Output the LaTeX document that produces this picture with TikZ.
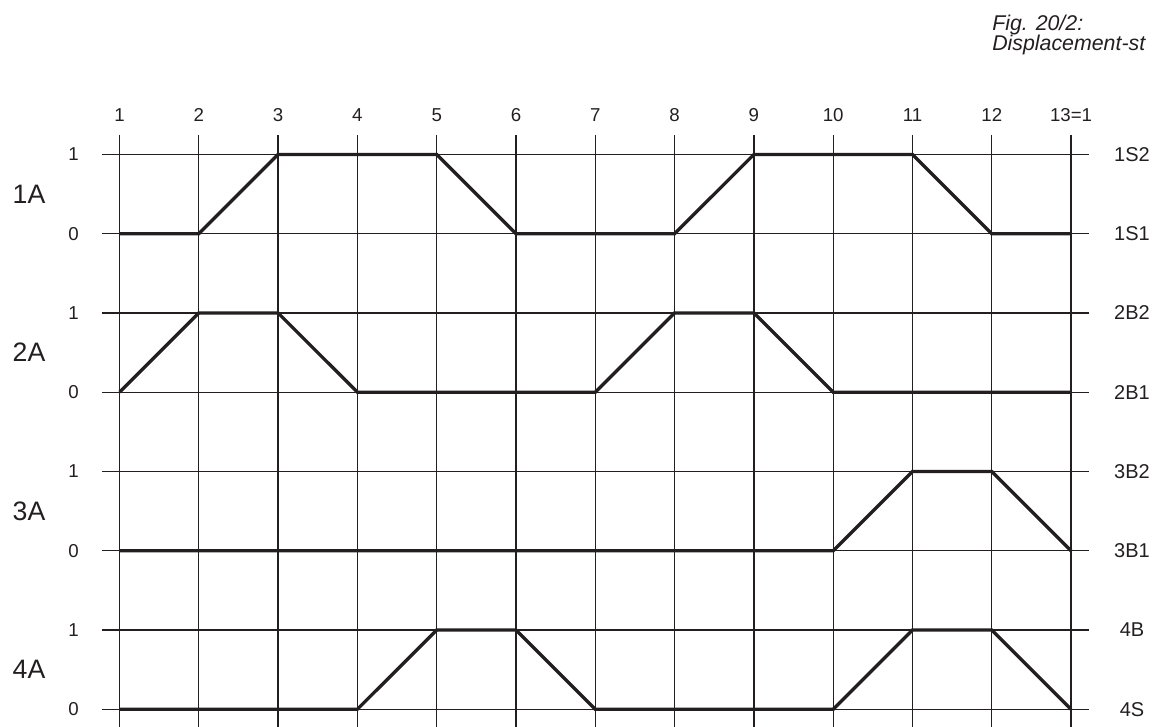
\documentclass[tikz,border=0pt]{standalone}
\usepackage{fontspec}
\setmainfont{Liberation Sans}
\usetikzlibrary{positioning}
\definecolor{ink}{HTML}{231F20}

\begin{document}
\begin{tikzpicture}[
  x=59.475pt,y=-59.4375pt,
  gridline/.style={line width=1pt,draw=ink},
  sig/.style={line width=2.5pt,draw=ink,line join=miter},
  colnum/.style={font=\fontsize{14}{16}\selectfont,text=ink},
  lvl/.style={font=\fontsize{14}{16}\selectfont,text=ink},
  cyl/.style={font=\fontsize{20}{24}\selectfont,text=ink},
  sw/.style={font=\fontsize{15}{18}\selectfont,text=ink},
  capt/.style={font=\fontsize{16}{18}\selectfont\itshape,anchor=base west,inner sep=0pt,text=ink}]

\useasboundingbox (-1.507,-1.9495) rectangle (13.134,7.224);

% grid
\foreach \i in {0,...,12} {\draw[gridline] (\i,-0.246) -- (\i,7.224);}
\foreach \j in {0,...,7} {\draw[gridline] (-0.2207,\j) -- (12.226,\j);}

% step numbers
\foreach \i/\t in {0/1,1/2,2/3,3/4,4/5,5/6,6/7,7/8,8/9,9/10,10/11,11/12,12/13=1}
  {\node[colnum] (c\i) at (\i,-0.5) {\t};}

% cylinders, levels and switches
\foreach \g/\t in {0/1A,1/2A,2/3A,3/4A} {
  \node[cyl] (cy\g) at (-1.141,{2*\g+0.5}) {\t};
  \node[lvl] (hi\g) at (-0.58,{2*\g}) {1};
  \node[lvl] (lo\g) at (-0.58,{2*\g+1}) {0};
}
\foreach \j/\t in {0/1S2,1/1S1,2/2B2,3/2B1,4/3B2,5/3B1,6/4B,7/4S}
  {\node[sw] (s\j) at (12.768,\j) {\t};}

% displacement-step curves
\draw[sig] (0,1) -- (1,1) -- (2,0) -- (4,0) -- (5,1) -- (7,1) -- (8,0) -- (10,0) -- (11,1) -- (12,1);
\draw[sig] (0,3) -- (1,2) -- (2,2) -- (3,3) -- (6,3) -- (7,2) -- (8,2) -- (9,3) -- (12,3);
\draw[sig] (0,5) -- (9,5) -- (10,4) -- (11,4) -- (12,5);
\draw[sig] (0,7) -- (3,7) -- (4,6) -- (5,6) -- (6,7) -- (9,7) -- (10,6) -- (11,6) -- (12,7);

\node[capt] (fig) at (11.003,-1.560) {Fig. 20/2:};
\node[capt] (ttl) at (11.003,-1.310) {Displacement-st};
\end{tikzpicture}
\end{document}
